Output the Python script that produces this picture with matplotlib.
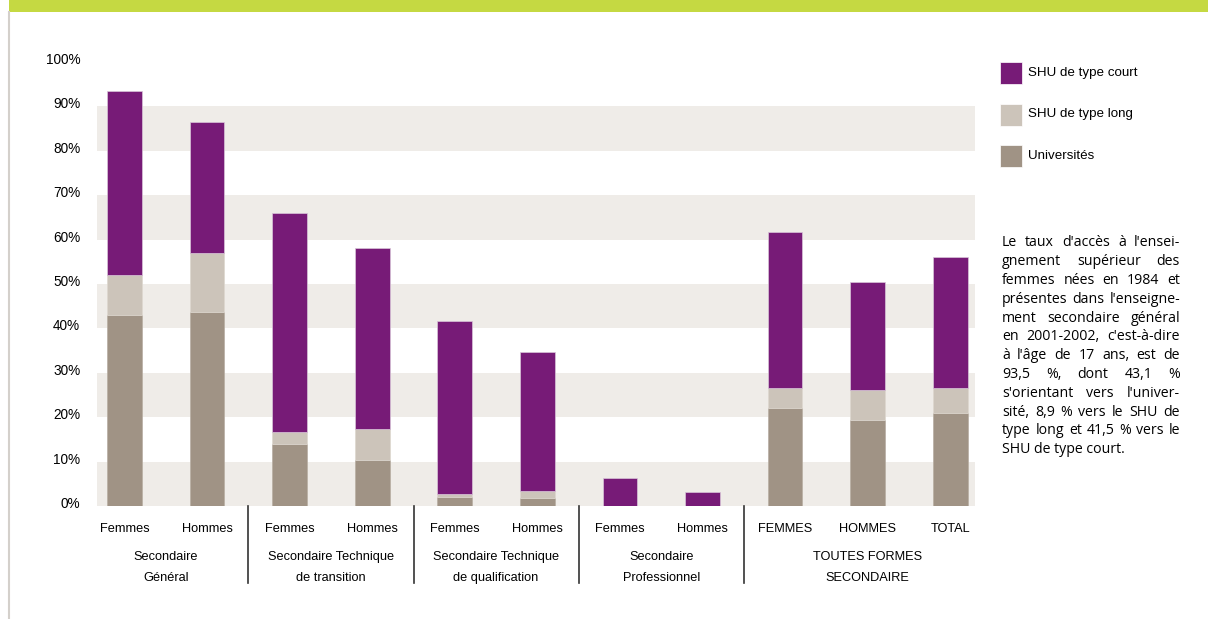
import matplotlib
matplotlib.use("Agg")
import matplotlib.pyplot as plt
import numpy as np
from matplotlib import font_manager
from matplotlib.patches import Rectangle
from matplotlib.transforms import ScaledTranslation, blended_transform_factory

# Data (percent)
bar_labels = ["Femmes", "Hommes", "Femmes", "Hommes", "Femmes", "Hommes",
              "Femmes", "Hommes", "FEMMES", "HOMMES", "TOTAL"]
universites = [43.1, 43.7, 14.0, 10.3, 2.1, 1.9, 0.0, 0.0, 22.1, 19.4, 21.0]
shu_long = [8.9, 13.2, 2.6, 7.1, 0.6, 1.5, 0.0, 0.0, 4.5, 6.7, 5.6]
shu_court = [41.5, 29.5, 49.5, 40.7, 39.0, 31.2, 6.3, 3.2, 35.0, 24.4, 29.4]

group_labels = ["Secondaire\nGénéral", "Secondaire Technique\nde transition",
                "Secondaire Technique\nde qualification", "Secondaire\nProfessionnel",
                "TOUTES FORMES\nSECONDAIRE"]
group_centers = [0.5, 2.5, 4.5, 6.5, 9]
separators = [1.5, 3.5, 5.5, 7.5]

legend_names = ["SHU de type court", "SHU de type long", "Universités"]

note_lines = [
    "Le taux d'accès à l'ensei-",
    "gnement supérieur des",
    "femmes nées en 1984 et",
    "présentes dans l'enseigne-",
    "ment secondaire général",
    "en 2001-2002, c'est-à-dire",
    "à l'âge de 17 ans, est de",
    "93,5 %, dont 43,1 %",
    "s'orientant vers l'univer-",
    "sité, 8,9 % vers le SHU de",
    "type long et 41,5 % vers le",
    "SHU de type court.",
]

c_court = "#771b77"
c_long = "#ccc4ba"
c_univ = "#a09385"
c_band = "#efece8"

# condensed font if there is one, else plain Liberation Sans a bit smaller
installed = {f.name for f in font_manager.fontManager.ttflist}
if "Liberation Sans Narrow" in installed:
    lab_font, fs = "Liberation Sans Narrow", 10
else:
    lab_font, fs = "Liberation Sans", 9.2
plt.rcParams["font.family"] = [lab_font, "DejaVu Sans"]

W, H = 1208, 619
fig = plt.figure(figsize=(W / 100, H / 100), dpi=100)

# header strip and left frame line
fig.add_artist(Rectangle((9 / W, 1 - 12 / H), 1, 12 / H, transform=fig.transFigure,
                         color="#c5d942", lw=0))
fig.add_artist(plt.Line2D([8.5 / W, 8.5 / W], [0, 1 - 12 / H], transform=fig.transFigure,
                          color="#d4d0cb", lw=1.5))

ax = fig.add_axes([97 / W, 1 - 506 / H, (975 - 97) / W, 444 / H])

x = np.arange(len(bar_labels))
width = 0.42
ax.bar(x, universites, width, color=c_univ, zorder=3, edgecolor="#b8aea3", linewidth=0.5)
ax.bar(x, shu_long, width, bottom=universites, color=c_long, zorder=3,
       edgecolor="#ddd7cf", linewidth=0.5)
bottom2 = np.array(universites) + np.array(shu_long)
ax.bar(x, shu_court, width, bottom=bottom2, color=c_court, zorder=3,
       edgecolor="#d9c6d9", linewidth=0.5)

# alternating horizontal bands
for lo in range(0, 100, 20):
    ax.axhspan(lo, lo + 10, color=c_band, lw=0, zorder=0)

ax.set_xlim(-0.333, 10.3)
ax.set_ylim(0, 100)
for s in ax.spines.values():
    s.set_visible(False)

ax.set_yticks(range(0, 101, 10))
ax.set_yticklabels([f"{v}%" for v in range(0, 101, 10)], fontsize=fs + 0.6)
ax.tick_params(axis="y", length=0, pad=12)
for lab in ax.get_yticklabels():
    lab.set_transform(lab.get_transform() + ScaledTranslation(0, 0.035, fig.dpi_scale_trans))

ax.set_xticks(x)
ax.set_xticklabels(bar_labels, fontsize=fs)
ax.tick_params(axis="x", length=0, pad=12)

trans = blended_transform_factory(ax.transData, ax.transAxes)
for gx, gl in zip(group_centers, group_labels):
    ax.text(gx, -0.102, gl, transform=trans, ha="center", va="top", fontsize=fs,
            linespacing=2.0)
for sx in separators:
    ax.plot([sx, sx], [0.0, -0.173], transform=trans, color="#333333", lw=1.2, clip_on=False)

# legend, drawn by hand as squares + labels
for i, (name, col) in enumerate(zip(legend_names, [c_court, c_long, c_univ])):
    yc = 73 + i * 41.5
    fig.add_artist(Rectangle((1000 / W, 1 - (yc + 11) / H), 22 / W, 22 / H,
                             transform=fig.transFigure, facecolor=col,
                             edgecolor="#ffffff", lw=0.5))
    fig.text(1028 / W, 1 - yc / H, name, fontsize=fs + 0.4, va="center", ha="left")

# justified note
fig.canvas.draw()
renderer = fig.canvas.get_renderer()
x0, x1 = 1002, 1180
y_first, step = 243, 18.8
note_font = dict(fontsize=10.2, family=["Open Sans", "DejaVu Sans"], va="center", ha="left")
for i, line in enumerate(note_lines):
    yy = 1 - (y_first + i * step) / H
    words = line.split(" ")
    if i == len(note_lines) - 1 or len(words) == 1:
        fig.text(x0 / W, yy, line, **note_font)
        continue
    texts = [fig.text(0, yy, w, **note_font) for w in words]
    widths = [t.get_window_extent(renderer).width for t in texts]
    gap = (x1 - x0 - sum(widths)) / (len(words) - 1)
    gap = max(gap, 2.5)
    cur = x0
    for t, w in zip(texts, widths):
        t.set_x(cur / W)
        cur += w + gap

fig.savefig("out.png", dpi=100)
